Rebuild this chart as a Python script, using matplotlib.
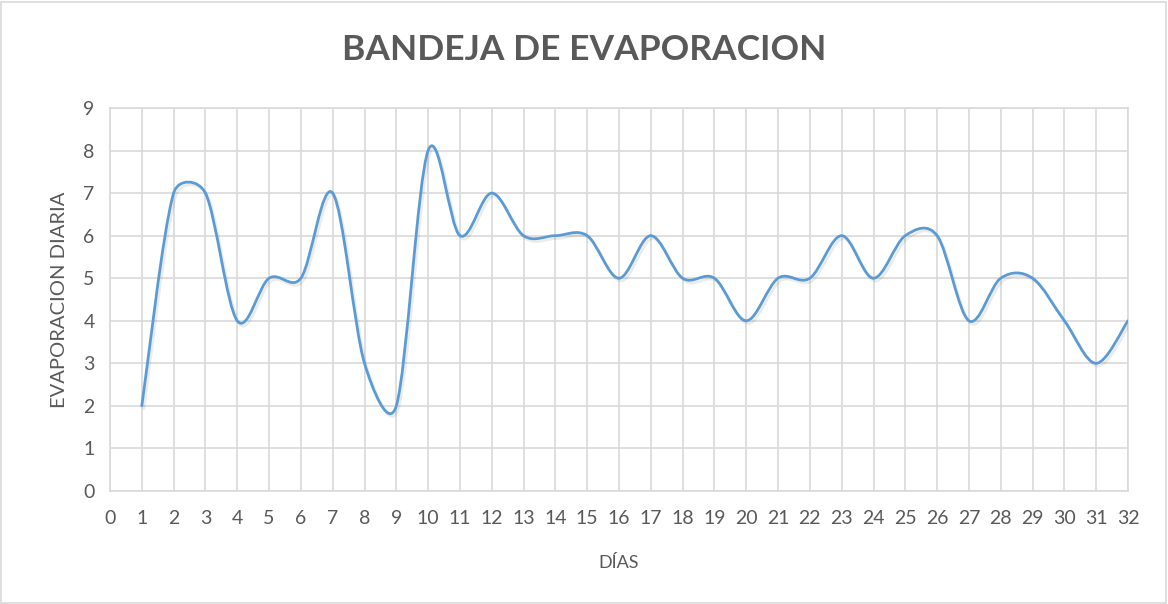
import numpy as np
import matplotlib.pyplot as plt
import matplotlib.patheffects as pe
from matplotlib.path import Path
from matplotlib.patches import PathPatch, Rectangle

dias = list(range(1, 33))
evaporacion = [2, 7, 7, 4, 5, 5, 7, 3, 2, 8, 6, 7, 6, 6, 6, 5,
               6, 5, 5, 4, 5, 5, 6, 5, 6, 6, 4, 5, 5, 4, 3, 4]

plt.rcParams['font.family'] = ['Lato', 'DejaVu Sans']
gray = '#595959'

fig = plt.figure(figsize=(11.68, 6.04), dpi=100)
ax = fig.add_axes([110 / 1168, 113 / 604, 1018 / 1168, 383 / 604])
ax.set_xlim(0, 32)
ax.set_ylim(0, 9)

# Excel-like smoothed line: catmull-rom bezier in screen space,
# control arms capped at half of the segment length
fig.canvas.draw()
pts = ax.transData.transform(np.column_stack([dias, evaporacion]).astype(float))
n = len(pts)


def arm(tangent, seg_len):
    v = tangent / 6.0
    L = np.hypot(*v)
    cap = 0.5 * seg_len
    if L > cap and L > 0:
        v = v * cap / L
    return v


verts = [pts[0]]
codes = [Path.MOVETO]
for i in range(n - 1):
    p0 = pts[max(i - 1, 0)]
    p1 = pts[i]
    p2 = pts[i + 1]
    p3 = pts[min(i + 2, n - 1)]
    seg = np.hypot(*(p2 - p1))
    c1 = p1 + arm(p2 - p0, seg)
    c2 = p2 - arm(p3 - p1, seg)
    verts += [c1, c2, p2]
    codes += [Path.CURVE4] * 3
verts = ax.transData.inverted().transform(np.array(verts))
patch = PathPatch(Path(verts, codes), facecolor='none', edgecolor='#5B9BD5',
                  lw=2.0, capstyle='round', zorder=3,
                  path_effects=[pe.SimpleLineShadow(offset=(1.5, -2), shadow_color='#000000', alpha=0.08),
                                pe.Normal()])
ax.add_patch(patch)

ax.set_xticks(range(0, 33))
ax.set_yticks(range(0, 10))
ax.grid(True, color='#D9D9D9', lw=1.2, zorder=0)
ax.set_axisbelow(True)
for s in ax.spines.values():
    s.set_color('#D9D9D9')
    s.set_linewidth(1.2)
ax.tick_params(length=0, labelsize=14, labelcolor=gray, pad=14)
ax.tick_params(axis='y', pad=11)

ax.set_xlabel('DÍAS', fontsize=13, color=gray, labelpad=20)
ax.set_ylabel('EVAPORACION DIARIA', fontsize=14.5, color=gray, labelpad=11)
fig.text(0.5, 0.918, 'BANDEJA DE EVAPORACION', ha='center', va='center',
         fontsize=25.5, fontweight='bold', color=gray)

fig.patches.append(Rectangle((0.001, 0.001), 0.997, 0.995, transform=fig.transFigure,
                             fill=False, edgecolor='#D9D9D9', lw=1.2))

fig.savefig('out.png', dpi=100)
